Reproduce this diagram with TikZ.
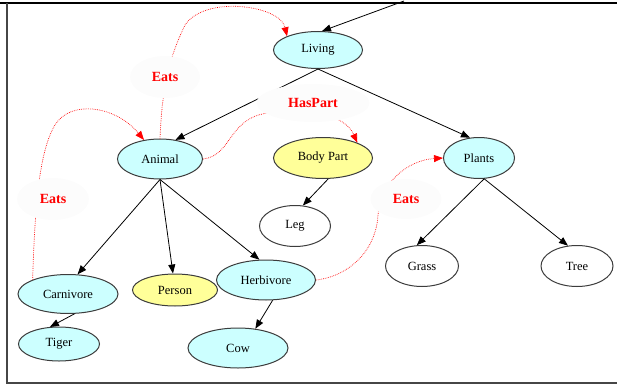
\documentclass[tikz,border=0pt]{standalone}
\usepackage{fontspec}
\setmainfont{Liberation Serif}
\usetikzlibrary{arrows.meta,shapes.geometric}
\definecolor{nodecyan}{RGB}{204,255,255}
\definecolor{nodeyellow}{RGB}{255,255,153}
\definecolor{nodeedge}{RGB}{60,60,60}
\definecolor{labelhaze}{RGB}{252,252,252}
\definecolor{framegray}{RGB}{70,70,70}
\begin{document}
\begin{tikzpicture}[x=1pt,y=-1pt,
  concept/.style={ellipse, draw=nodeedge, line width=1pt, inner sep=0pt,
    font=\fontsize{12.5}{14}\selectfont},
  cyanc/.style={concept, fill=nodecyan},
  yellowc/.style={concept, fill=nodeyellow},
  whitec/.style={concept, fill=white},
  isa/.style={draw=black, line width=0.8pt, -{Triangle[length=9pt,width=7pt]}},
  relation/.style={draw=red, line width=0.7pt, dash pattern=on 0.7pt off 1.1pt,
    -{Triangle[length=9pt,width=7pt]}},
  rellabel/.style={ellipse, fill=labelhaze, text=red, inner sep=0pt,
    font=\bfseries\fontsize{14}{16}\selectfont}
]
\useasboundingbox (0,0) rectangle (617,385);

% concept nodes
\node[cyanc, minimum width=89pt, minimum height=37pt] (living) at (318,50) {Living};
\node[cyanc, minimum width=85pt, minimum height=40pt] (animal) at (160,159) {Animal};
\node[yellowc, minimum width=99pt, minimum height=41pt] (body) at (323,158) {Body Part};
\node[cyanc, minimum width=71pt, minimum height=41pt] (plants) at (479,158) {Plants};
\node[whitec, minimum width=71pt, minimum height=41pt] (leg) at (295,226) {Leg};
\node[cyanc, minimum width=100pt, minimum height=39pt] (carn) at (68,294) {Carnivore};
\node[yellowc, minimum width=85pt, minimum height=32pt] (person) at (175,290) {Person};
\node[cyanc, minimum width=99pt, minimum height=40pt] (herb) at (266,280) {Herbivore};
\node[cyanc, minimum width=81pt, minimum height=34pt] (tiger) at (59,344) {Tiger};
\node[cyanc, minimum width=100pt, minimum height=40pt] (cow) at (238,348) {Cow};
\node[whitec, minimum width=73pt, minimum height=41pt] (grass) at (422,266) {Grass};
\node[whitec, minimum width=72pt, minimum height=41pt] (tree) at (577,266) {Tree};

% incoming edge from the parent above the visible area
\coordinate (parent) at (404,1);

% is-a edges
\draw[isa] (parent) -- (living.78);
\draw[isa] (living.south) -- (animal.51);
\draw[isa] (living.south) -- (plants.114);
\draw[isa] (animal.south) -- (carn.64);
\draw[isa] (animal.south) -- (person.97);
\draw[isa] (animal.south) -- (herb.108);
\draw[isa] (carn.-72) -- (tiger.118);
\draw[isa] (herb.-72) -- (cow.48);
\draw[isa] (body.-76) -- (leg.69);
\draw[isa] (plants.-76) -- (grass.104);
\draw[isa] (plants.-76) -- (tree.114);

% relation edges
\draw[relation] (animal.north) .. controls (162,90) and (168,60) .. (185,25)
  .. controls (205,-5) and (280,5) .. (living.156);
\draw[relation] (carn.158) .. controls (35,200) and (40,150) .. (55,125)
  .. controls (70,100) and (115,105) .. (animal.130);
\draw[relation] (animal.east) .. controls (232,156) and (228,118) .. (268,113)
  .. controls (310,107) and (345,115) .. (body.24);
\draw[relation] (herb.east) .. controls (350,276) and (376,250) .. (378,215)
  .. controls (381,180) and (410,160) .. (plants.west);

% relation labels
\node[rellabel, minimum width=70pt, minimum height=42pt] (l1) at (165,77) {Eats};
\node[rellabel, minimum width=72pt, minimum height=42pt] (l2) at (53,199) {Eats};
\node[rellabel, minimum width=113pt, minimum height=38pt] (l3) at (313,103) {HasPart};
\node[rellabel, minimum width=71pt, minimum height=40pt] (l4) at (406,199) {Eats};

% frame
\draw[black, line width=1.4pt] (0,3) -- (617,3);
\draw[framegray, line width=2pt] (7,3) -- (7,383) -- (617,383);
\end{tikzpicture}
\end{document}
